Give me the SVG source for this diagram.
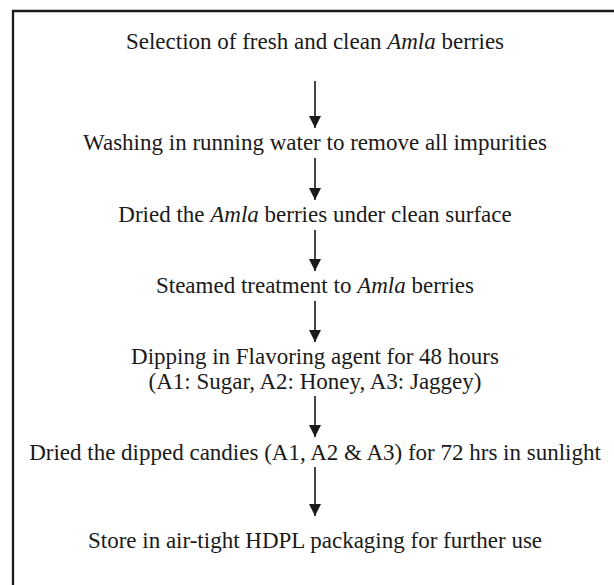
<svg xmlns="http://www.w3.org/2000/svg" width="614" height="585" viewBox="0 0 614 585">
<defs>
<marker id="ah" viewBox="0 0 12 12" refX="12" refY="6" markerWidth="12" markerHeight="12" markerUnits="userSpaceOnUse" orient="auto">
<path d="M0,0 L12,6 L0,12 Z" fill="#1a1a1a"/>
</marker>
</defs>
<style>
text{font-family:"Liberation Serif","Times New Roman",serif;font-size:23px;fill:#1a1a1a;text-anchor:middle}
.c{stroke:#1a1a1a;stroke-width:1.6;fill:none;marker-end:url(#ah)}
</style>
<rect x="0" y="0" width="614" height="585" fill="#fff"/>
<path d="M13,600 V11 H620" stroke="#1a1a1a" stroke-width="2.3" fill="none"/>
<g id="n1"><text x="315" y="49">Selection of fresh and clean <tspan font-style="italic">Amla</tspan> berries</text></g>
<g id="n2"><text x="315" y="150">Washing in running water to remove all impurities</text></g>
<g id="n3"><text x="315" y="222">Dried the <tspan font-style="italic">Amla</tspan> berries under clean surface</text></g>
<g id="n4"><text x="315" y="293">Steamed treatment to <tspan font-style="italic">Amla</tspan> berries</text></g>
<g id="n5"><text x="315" y="364">Dipping in Flavoring agent for 48 hours</text><text x="315" y="389">(A1: Sugar, A2: Honey, A3: Jaggey)</text></g>
<g id="n6"><text x="315" y="460">Dried the dipped candies (A1, A2 &amp; A3) for 72 hrs in sunlight</text></g>
<g id="n7"><text x="315" y="548">Store in air-tight HDPL packaging for further use</text></g>
<g id="connectors">
<line class="c" x1="315" y1="81" x2="315" y2="128"/>
<line class="c" x1="315" y1="158" x2="315" y2="200"/>
<line class="c" x1="315" y1="230" x2="315" y2="271"/>
<line class="c" x1="315" y1="301" x2="315" y2="342"/>
<line class="c" x1="315" y1="396" x2="315" y2="437"/>
<line class="c" x1="315" y1="467" x2="315" y2="516"/>
</g>
</svg>
